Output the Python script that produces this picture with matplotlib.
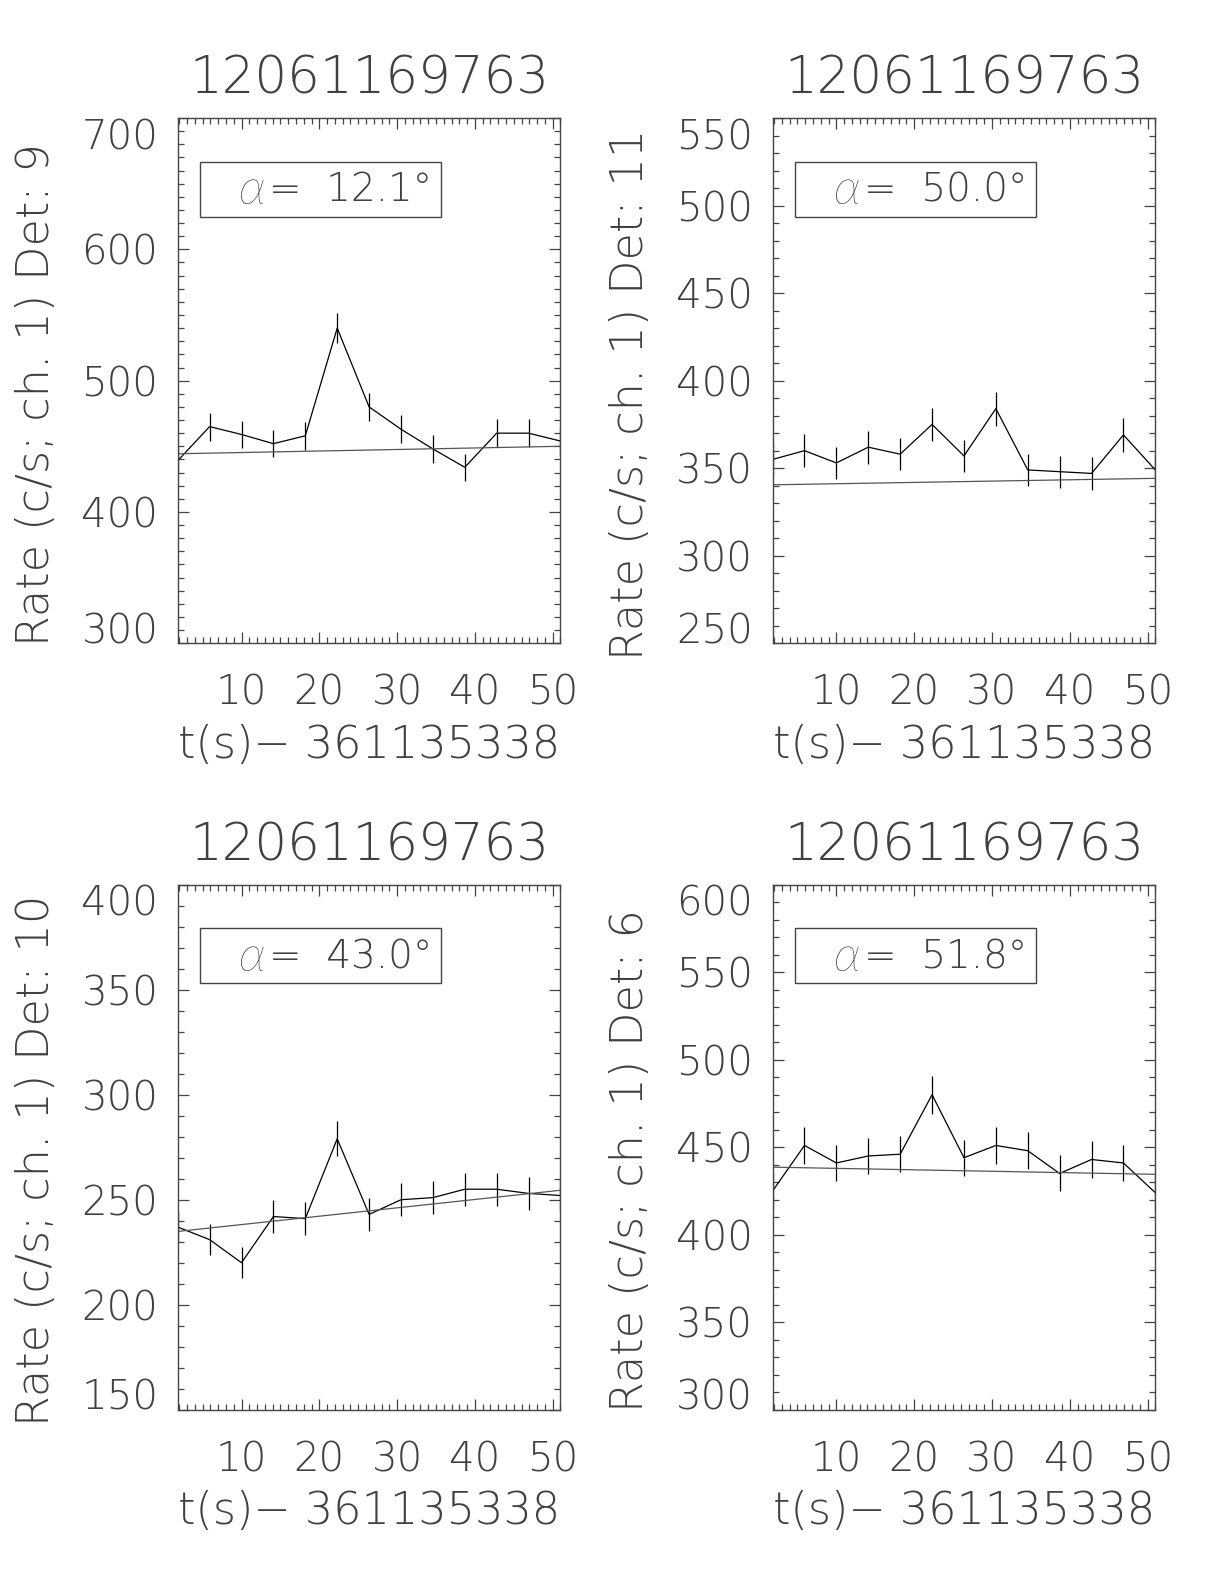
import matplotlib
matplotlib.use("Agg")
import matplotlib.pyplot as plt
from matplotlib.patches import Rectangle
from matplotlib.ticker import FixedLocator, MultipleLocator

plt.rcParams['font.family'] = ['DejaVu Sans']
plt.rcParams['font.weight'] = 200

# bin times (s) relative to 361135338
t = [1.8, 5.9, 10.0, 14.1, 18.2, 22.3, 26.4, 30.5, 34.6, 38.7, 42.8, 46.9, 51.0]
xticks = [10, 20, 30, 40, 50]

title = '12061169763'
xlabel = 't(s)\u2212 361135338'

# detector 9
rate_d9 = [439, 465, 459, 452, 458, 540, 480, 463, 448, 434, 460, 460, 454]
err_d9 = [10.4, 10.7, 10.6, 10.5, 10.6, 11.5, 10.8, 10.6, 10.5, 10.3, 10.6, 10.6, 10.5]
bkg_d9 = [444.3, 450.0]
yticks_d9 = [300, 400, 500, 600, 700]

# detector 11
rate_d11 = [355, 360, 353, 362, 358, 375, 357, 384, 349, 348, 347, 369, 349]
err_d11 = [9.3, 9.4, 9.3, 9.4, 9.3, 9.6, 9.3, 9.7, 9.2, 9.2, 9.2, 9.5, 9.2]
bkg_d11 = [340.5, 344.2]
yticks_d11 = [250, 300, 350, 400, 450, 500, 550]

# detector 10
rate_d10 = [237, 231, 220, 242, 241, 279, 243, 250, 251, 255, 255, 253, 252]
err_d10 = [7.6, 7.5, 7.3, 7.7, 7.7, 8.3, 7.7, 7.8, 7.8, 7.9, 7.9, 7.9, 7.8]
bkg_d10 = [234.9, 254.5]
yticks_d10 = [150, 200, 250, 300, 350, 400]

# detector 6
rate_d6 = [425, 451, 441, 445, 446, 480, 444, 451, 448, 435, 443, 441, 424]
err_d6 = [10.2, 10.5, 10.4, 10.4, 10.4, 10.8, 10.4, 10.5, 10.5, 10.3, 10.4, 10.4, 10.2]
bkg_d6 = [438.6, 434.5]
yticks_d6 = [300, 350, 400, 450, 500, 550, 600]

panels = [
    # det, angle, rate, err, bkg, yticks, position
    ('9', 12.1, rate_d9, err_d9, bkg_d9, yticks_d9, [0.1452, 0.5939, 0.3127, 0.3316]),
    ('11', 50.0, rate_d11, err_d11, bkg_d11, yticks_d11, [0.6312, 0.5939, 0.3127, 0.3316]),
    ('10', 43.0, rate_d10, err_d10, bkg_d10, yticks_d10, [0.1452, 0.1100, 0.3127, 0.3315]),
    ('6', 51.8, rate_d6, err_d6, bkg_d6, yticks_d6, [0.6312, 0.1100, 0.3127, 0.3315]),
]

txt_col = '#404040'
ax_col = '#444444'
fs = 29
fs_lab = 32

fig = plt.figure(figsize=(12.24, 15.84), dpi=100)

for det, angle, rate, err, bkg, yticks, pos in panels:
    ax = fig.add_axes(pos)
    ax.plot(t, rate, color='black', lw=0.9)
    ax.errorbar(t, rate, yerr=err, fmt='none', ecolor='black', elinewidth=0.9, capsize=0)
    ax.plot([t[0], t[-1]], bkg, color='#555555', lw=0.9)

    ax.set_xlim(t[0], t[-1])
    ax.set_ylim(yticks[0], yticks[-1])
    ax.xaxis.set_major_locator(FixedLocator(xticks))
    ax.xaxis.set_minor_locator(MultipleLocator(1))
    ax.yaxis.set_major_locator(FixedLocator(yticks))
    ax.yaxis.set_minor_locator(MultipleLocator(10))
    ax.tick_params(which='both', direction='in', top=True, right=True, colors=ax_col,
                   labelcolor=txt_col, labelsize=fs, width=0.9)
    ax.tick_params(which='major', length=8)
    ax.tick_params(which='minor', length=4)
    ax.tick_params(axis='x', which='major', pad=22)
    ax.tick_params(axis='y', which='major', pad=14)
    for sp in ax.spines.values():
        sp.set_color(ax_col)
        sp.set_linewidth(1.0)

    # IDL-style: end labels kept inside the axis range
    yt = ax.yaxis.get_major_ticks()
    yt[0].label1.set_verticalalignment('baseline')
    yt[-1].label1.set_verticalalignment('top')

    ax.text(0.5, 1.074, title, transform=ax.transAxes, ha='center', va='center',
            fontsize=37, color=txt_col, fontweight=200)
    ax.set_xlabel(xlabel, fontsize=fs_lab, color=txt_col, fontweight=200, va='center')
    ax.xaxis.set_label_coords(0.5, -0.194)
    ax.set_ylabel('Rate (c/s; ch. 1) Det: ' + det, fontsize=fs_lab, color=txt_col,
                  fontweight=200, va='center')
    ax.yaxis.set_label_coords(-0.37, 0.474)

    ax.add_patch(Rectangle((0.058, 0.812), 0.63, 0.105, transform=ax.transAxes,
                           fill=False, edgecolor=ax_col, lw=1.0))
    ax.text(0.160, 0.862, '\u03b1', transform=ax.transAxes, ha='left', va='center',
            fontsize=36, color='black', family='Lato', style='italic', fontweight='light')
    ax.text(0.238, 0.862, '=  %4.1f\u00b0' % angle, transform=ax.transAxes,
            ha='left', va='center', fontsize=28, color=txt_col, fontweight=200)

fig.savefig('out.png', dpi=100)
